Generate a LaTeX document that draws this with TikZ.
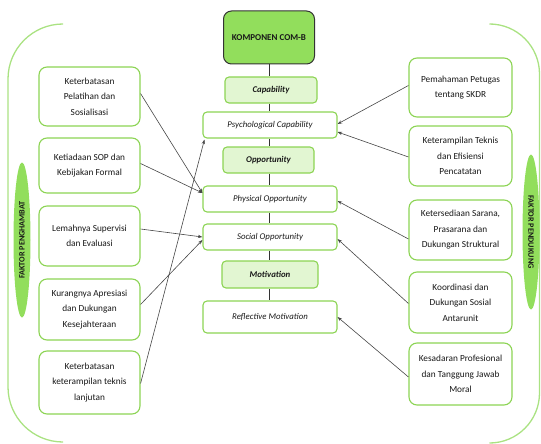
\documentclass[tikz,border=0pt]{standalone}
\usepackage{fontspec}
\setmainfont{Carlito}
\usetikzlibrary{shapes.geometric,arrows.meta}
\definecolor{gborder}{RGB}{140,212,84}
\definecolor{gdark}{RGB}{146,222,92}
\definecolor{glight}{RGB}{226,246,210}
\definecolor{gline}{RGB}{170,226,130}
\definecolor{arrowc}{RGB}{70,70,70}
\definecolor{txt}{RGB}{25,25,25}
\tikzset{
  factorbox/.style={draw=gborder, line width=1.1pt, fill=white, rounded corners=8pt,
    align=center, inner sep=2pt, text=txt, font=\fontsize{9.3}{15.5}\selectfont},
  subbox/.style={draw=gborder, line width=1.1pt, fill=white, rounded corners=4pt,
    minimum width=134pt, inner sep=0pt, text=txt, font=\fontsize{8.8}{10}\selectfont\itshape},
  catbox/.style={draw=gborder, line width=1.1pt, fill=glight, rounded corners=4pt,
    inner sep=0pt, text=txt, font=\fontsize{8.8}{10}\selectfont\bfseries\itshape},
  topbox/.style={draw=black!80, line width=1pt, fill=gdark, rounded corners=8pt,
    inner sep=0pt, text=txt, font=\fontsize{9}{11}\selectfont\bfseries},
  spine/.style={draw=black!80, line width=0.8pt},
  link/.style={draw=arrowc, line width=0.6pt, -{Stealth[length=4.5pt,width=3.2pt]}},
  bracket/.style={draw=gline, line width=1.3pt},
  factorlabel/.style={ellipse, fill=gdark, inner sep=0pt, minimum width=155pt,
    minimum height=17pt, text=txt, font=\fontsize{8.2}{9}\selectfont\bfseries}
}
\begin{document}
\begin{tikzpicture}[x=1pt,y=-1pt]
\useasboundingbox (0,0) rectangle (541,444);

% brackets
\draw[bracket, rounded corners=55pt] (62,24) -- (8,24) -- (8,442) -- (62,442);
\draw[bracket, rounded corners=50pt] (493,24) -- (539.5,24) -- (539.5,443) -- (493,443);

% factor labels
\node[factorlabel, rotate=90] (hambat) at (22,240) {FAKTOR PENGHAMBAT};
\node[factorlabel, rotate=-90] (dukung) at (531,232) {FAKTOR PENDUKUNG};

% centre column
\node[topbox, minimum width=91pt, minimum height=53pt] (top) at (269,37.5) {KOMPONEN COM-B};
\node[catbox, minimum width=92pt, minimum height=26pt] (cap) at (271,90) {Capability};
\node[subbox, minimum height=26pt] (psych) at (270,125) {Psychological Capability};
\node[catbox, minimum width=91pt, minimum height=26pt] (opp) at (268.5,160) {Opportunity};
\node[subbox, minimum height=26pt] (phys) at (270,199) {Physical Opportunity};
\node[subbox, minimum height=26pt] (soc) at (270,237) {Social Opportunity};
\node[catbox, minimum width=96pt, minimum height=27pt] (mot) at (270,274.5) {Motivation};
\node[subbox, minimum height=32pt] (refl) at (270,317) {Reflective Motivation};

\draw[spine] (top.south) -- (cap.north -| top.south);
\draw[spine] (cap.south -| top.south) -- (psych.north -| top.south);
\draw[spine] (psych.south -| top.south) -- (opp.north -| top.south);
\draw[spine] (opp.south -| top.south) -- (phys.north -| top.south);
\draw[spine] (phys.south -| top.south) -- (soc.north -| top.south);
\draw[spine] (soc.south -| top.south) -- (mot.north -| top.south);
\draw[spine] (mot.south -| top.south) -- (refl.north -| top.south);

% left factor boxes
\node[factorbox, minimum width=101pt, minimum height=59pt] (l1) at (89.5,96.5) {Keterbatasan\\Pelatihan dan\\Sosialisasi};
\node[factorbox, minimum width=101pt, minimum height=55pt] (l2) at (89.5,165.5) {Ketiadaan SOP dan\\Kebijakan Formal};
\node[factorbox, minimum width=101pt, minimum height=60pt] (l3) at (89.5,236) {Lemahnya Supervisi\\dan Evaluasi};
\node[factorbox, minimum width=101pt, minimum height=61pt] (l4) at (89.5,309.5) {Kurangnya Apresiasi\\dan Dukungan\\Kesejahteraan};
\node[factorbox, minimum width=101pt, minimum height=63pt] (l5) at (89.5,382.5) {Keterbatasan\\keterampilan teknis\\lanjutan};

% right factor boxes
\node[factorbox, minimum width=103pt, minimum height=59pt] (r1) at (460.5,87.5) {Pemahaman Petugas\\tentang SKDR};
\node[factorbox, minimum width=103pt, minimum height=60pt] (r2) at (460.5,156) {Keterampilan Teknis\\dan Efisiensi\\Pencatatan};
\node[factorbox, minimum width=103pt, minimum height=60pt] (r3) at (460.5,230) {Ketersediaan Sarana,\\Prasarana dan\\Dukungan Struktural};
\node[factorbox, minimum width=103pt, minimum height=61pt] (r4) at (460.5,302.5) {Koordinasi dan\\Dukungan Sosial\\Antarunit};
\node[factorbox, minimum width=103pt, minimum height=62pt] (r5) at (460.5,374) {Kesadaran Profesional\\dan Tanggung Jawab\\Moral};

% links from inhibiting factors
\draw[link] ([yshift=3pt]l1.east) -- ([yshift=6pt]phys.west);
\draw[link] ([yshift=2pt]l2.east) -- ([yshift=6pt]phys.west);
\draw[link] ([yshift=7pt]l3.east) -- ([yshift=0pt]soc.west);
\draw[link] ([yshift=5pt]l4.east) -- ([yshift=-3pt]soc.west);
\draw[link] ([yshift=-1pt]l5.east) -- ([xshift=2pt,yshift=-1pt]psych.south west);

% links from supporting factors
\draw[link] ([yshift=2pt]r1.west) -- ([yshift=1pt]psych.east);
\draw[link] ([yshift=-1pt]r2.west) -- ([yshift=-7pt]psych.east);
\draw[link] ([yshift=-9pt]r3.west) -- ([yshift=-2pt]phys.east);
\draw[link] ([yshift=-1pt]r4.west) -- ([yshift=-2pt]soc.east);
\draw[link] ([yshift=-3pt]r5.west) -- ([yshift=0pt]refl.east);
\end{tikzpicture}
\end{document}
